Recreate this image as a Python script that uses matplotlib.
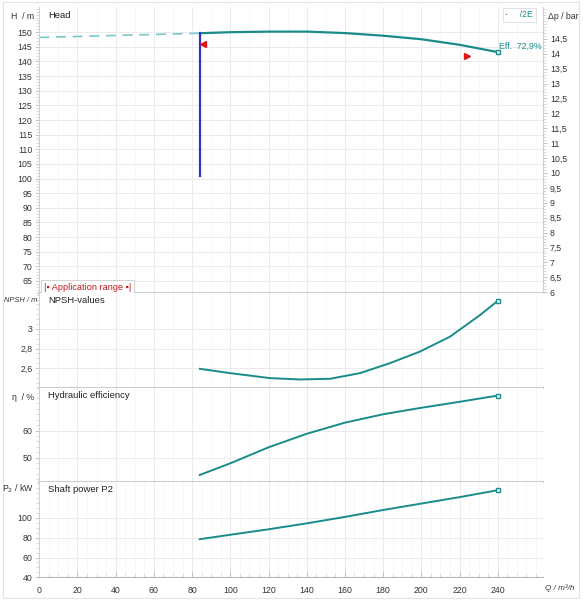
import numpy as np
import matplotlib.pyplot as plt
from matplotlib.ticker import MultipleLocator, FuncFormatter

# flow rates (m3/h) and curve values
head_ext_q = [0, 84]
head_ext_h = [148.2, 149.65]
head_q = [84, 100, 120, 140, 160, 180, 200, 220, 240]
head_h = [149.65, 150.0, 150.2, 150.2, 149.7, 148.8, 147.6, 145.7, 143.2]

npsh_q = [84.1, 99.8, 120.8, 136.5, 152.2, 167.9, 183.6, 199.3, 215.0, 230.7, 240]
npsh_v = [2.593, 2.549, 2.498, 2.484, 2.491, 2.549, 2.651, 2.769, 2.921, 3.141, 3.286]

eff_q = [84, 100, 120, 140, 160, 180, 200, 220, 240]
eff_v = [43.6, 47.9, 53.8, 58.8, 62.9, 66.0, 68.4, 70.6, 72.9]

pow_q = [84, 100, 120, 140, 160, 180, 200, 220, 240]
pow_v = [78.5, 83.0, 88.5, 94.5, 101.0, 108.0, 114.5, 121.0, 128.0]

min_flow_q = 84
min_flow_h = [101, 149.65]
marker_left = (85.8, 145.9)
marker_right = (223.7, 141.7)
eff_label = "Eff.  72,9%"
x_ticks = list(range(0, 241, 20))

TEAL = "#1a8b8b"
TEAL_LIGHT = "#7cc8c8"
GRID = "#ebebeb"
GRID_MINOR = "#f5f5f5"
TXT = "#333333"
M_PER_BAR = 10.19
FS = 6.3

plt.rcParams['font.family'] = ['Liberation Sans', 'DejaVu Sans']
fig = plt.figure(figsize=(5.83, 6.0), dpi=100)

L, W = 0.0674, 0.864
ax_h = fig.add_axes([L, 0.5122, W, 0.4756])
ax_n = fig.add_axes([L, 0.3538, W, 0.1584])
ax_e = fig.add_axes([L, 0.1962, W, 0.1576])
ax_p = fig.add_axes([L, 0.0378, W, 0.1584])
axes = [ax_h, ax_n, ax_e, ax_p]

comma = FuncFormatter(lambda v, p: ("%g" % v).replace(".", ","))

for ax in axes:
    ax.set_xlim(0, 263.7)
    ax.set_xticks(x_ticks)
    ax.xaxis.set_minor_locator(MultipleLocator(10))
    ax.grid(True, which="major", color=GRID, lw=0.7)
    ax.grid(True, which="minor", axis="x", color=GRID_MINOR, lw=0.5)
    ax.set_axisbelow(True)
    for s in ["top", "right"]:
        ax.spines[s].set_visible(False)
    ax.spines["left"].set_color("#d0d0d0")
    ax.spines["bottom"].set_color("#cccccc")
    ax.spines["bottom"].set_linewidth(1.5)
    ax.tick_params(axis="y", which="major", labelsize=FS, colors="#bbbbbb",
                   labelcolor=TXT, length=3, width=0.6, pad=2)
    ax.tick_params(axis="y", which="minor", colors="#cccccc", length=2, width=0.5)
    ax.tick_params(axis="x", which="both", bottom=False, labelbottom=False)
    ax.yaxis.set_major_formatter(comma)

# bottom axis ticks
ax_p.spines["bottom"].set_linewidth(0.8)
ax_p.spines["bottom"].set_color("#bbbbbb")
ax_p.xaxis.set_minor_locator(MultipleLocator(5))
ax_p.tick_params(axis="x", which="major", bottom=True, labelbottom=True, direction="in",
                 length=4, width=0.6, colors="#bbbbbb", labelcolor=TXT, labelsize=FS, pad=6)
ax_p.tick_params(axis="x", which="minor", bottom=True, direction="in", length=2.5,
                 width=0.5, colors="#cccccc")

# head panel
ax_h.set_ylim(61.0, 158.5)
ax_h.yaxis.set_minor_locator(MultipleLocator(1))
ax_h.set_yticks(list(range(65, 151, 5)))
ax_h.plot(head_ext_q, head_ext_h, color=TEAL_LIGHT, lw=1.2, ls=(0, (6, 4)))
ax_h.plot(head_q, head_h, color=TEAL, lw=1.6, solid_capstyle="butt")
ax_h.plot([min_flow_q, min_flow_q], min_flow_h, color="#3434c4", lw=1.6)
ax_h.plot(*marker_left, marker="<", color="#e01515", ms=4.5, ls="none")
ax_h.plot(*marker_right, marker=">", color="#e01515", ms=4.5, ls="none")
ax_h.plot(head_q[-1], head_h[-1], marker="s", ms=3.5, mfc="white", mec=TEAL, mew=1.0)
ax_h.text(head_q[-1] + 0.5, head_h[-1] + 0.6, eff_label, color=TEAL, fontsize=FS,
          ha="left", va="bottom")
ax_h.text(0.018, 0.988, "Head", transform=ax_h.transAxes, fontsize=6.8, color="#222222",
          va="top", ha="left")
ax_h.text(0.953, 0.99, "-     /2E", transform=ax_h.transAxes, fontsize=FS, color=TEAL,
          va="top", ha="center",
          bbox=dict(boxstyle="square,pad=0.3", fc="white", ec="#dddddd", lw=0.6))
ax_h.text(0.009, 0.003, "|\u25aa Application range \u25aa|", transform=ax_h.transAxes,
          fontsize=6.6, color="#c0181f", va="bottom", ha="left",
          bbox=dict(boxstyle="square,pad=0.3", fc="white", ec="#cccccc", lw=0.6))

# right pressure axis
ax_r = ax_h.twinx()
ax_r.set_ylim(61.0 / M_PER_BAR, 158.5 / M_PER_BAR)
ax_r.yaxis.set_minor_locator(MultipleLocator(0.1))
ax_r.set_yticks(np.arange(6, 14.51, 0.5))
ax_r.yaxis.set_major_formatter(comma)
for s in ["top", "left", "bottom"]:
    ax_r.spines[s].set_visible(False)
ax_r.spines["right"].set_color("#d0d0d0")
ax_r.tick_params(axis="y", which="major", labelsize=FS, colors="#bbbbbb", labelcolor=TXT,
                 length=3, width=0.6, pad=2)
ax_r.tick_params(axis="y", which="minor", colors="#cccccc", length=2, width=0.5)

# NPSH panel
ax_n.set_ylim(2.40, 3.37)
ax_n.yaxis.set_minor_locator(MultipleLocator(0.05))
ax_n.set_yticks([2.6, 2.8, 3.0])
ax_n.plot(npsh_q, npsh_v, color=TEAL, lw=1.4)
ax_n.plot(npsh_q[-1], npsh_v[-1], marker="s", ms=3.5, mfc="white", mec=TEAL, mew=1.0)
ax_n.text(0.018, 0.97, "NPSH-values", transform=ax_n.transAxes, fontsize=6.8,
          color="#222222", va="top", ha="left")

# efficiency panel
ax_e.set_ylim(40.9, 75.8)
ax_e.yaxis.set_minor_locator(MultipleLocator(2))
ax_e.set_yticks([50, 60])
ax_e.plot(eff_q, eff_v, color=TEAL, lw=1.4)
ax_e.plot(eff_q[-1], eff_v[-1], marker="s", ms=3.5, mfc="white", mec=TEAL, mew=1.0)
ax_e.text(0.018, 0.97, "Hydraulic efficiency", transform=ax_e.transAxes, fontsize=6.8,
          color="#222222", va="top", ha="left")

# shaft power panel
ax_p.set_ylim(40, 136)
ax_p.yaxis.set_minor_locator(MultipleLocator(5))
ax_p.set_yticks([40, 60, 80, 100])
ax_p.plot(pow_q, pow_v, color=TEAL, lw=1.4)
ax_p.plot(pow_q[-1], pow_v[-1], marker="s", ms=3.5, mfc="white", mec=TEAL, mew=1.0)
ax_p.text(0.018, 0.97, "Shaft power P2", transform=ax_p.transAxes, fontsize=6.8,
          color="#222222", va="top", ha="left")

# axis captions
fig.text(0.058, 0.973, "H  / m", fontsize=FS, color=TXT, ha="right", va="center")
fig.text(0.007, 0.499, "NPSH / m", fontsize=5.4, color=TXT, ha="left", va="center",
         style="italic")
fig.text(0.058, 0.338, "\u03b7  / %", fontsize=FS, color=TXT, ha="right", va="center")
fig.text(0.058, 0.185, "P$_2$ / kW", fontsize=FS, color=TXT, ha="right", va="center")
fig.text(0.940, 0.973, "\u0394p / bar", fontsize=FS, color=TXT, ha="left", va="center")
fig.text(0.935, 0.019, "Q / m\u00b3/h", fontsize=5.9, color=TXT, ha="left", va="center",
         style="italic")

# light outer frame
fig.add_artist(plt.Rectangle((0.005, 0.003), 0.988, 0.994, transform=fig.transFigure,
                             fill=False, ec="#e4e4e4", lw=0.8))

fig.savefig("out.png", dpi=100)
